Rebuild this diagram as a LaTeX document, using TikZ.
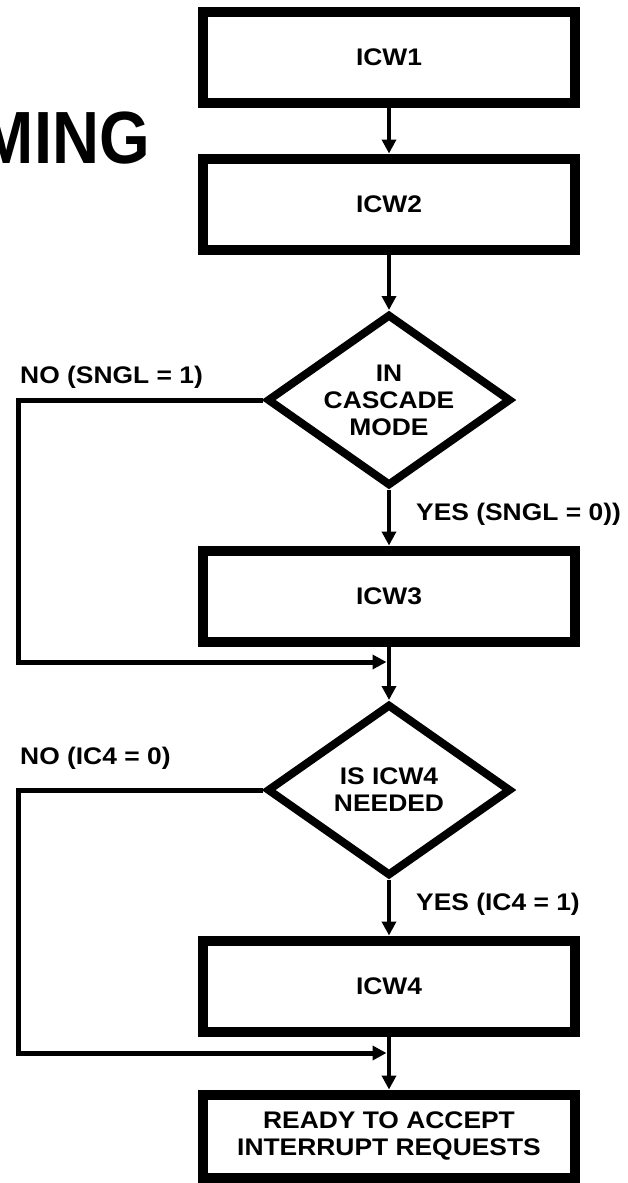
\documentclass[tikz,border=0pt]{standalone}
\usepackage{fontspec}
\newfontfamily\chartfont{Liberation Sans}[FakeStretch=1.1]
\newfontfamily\headfont{Liberation Sans}[FakeStretch=0.88]
\usetikzlibrary{
    arrows.meta,
    shapes.geometric
}

\begin{document}
\begin{tikzpicture}[x=1pt,y=-1pt,
    box/.style={draw,line width=10pt,minimum width=372pt,minimum height=91pt,
        inner sep=0pt,align=center,font=\chartfont\bfseries\fontsize{24}{27}\selectfont},
    decision/.style={diamond,draw,line width=8pt,aspect=1.4,minimum width=244pt,
        minimum height=172pt,inner sep=0pt,align=center,
        font=\chartfont\bfseries\fontsize{24}{27}\selectfont},
    flow/.style={line width=4.5pt,-{Triangle[length=14pt,width=14pt]}},
    tag/.style={anchor=west,inner sep=0pt,font=\chartfont\bfseries\fontsize{24}{27}\selectfont}]

\useasboundingbox (0,0) rectangle (628,1183);

% Heading (cut at the left edge)
\node[anchor=base east,inner sep=0pt,font=\headfont\bfseries\fontsize{74}{80}\selectfont] (title) at (150,163) {MING};

% Steps
\node[box] (icw1) at (389,57) {ICW1};
\node[box] (icw2) at (389,204) {ICW2};
\node[decision] (d1) at (389,400) {IN\\CASCADE\\MODE};
\node[box] (icw3) at (389,596) {ICW3};
\node[decision] (d2) at (389,790) {IS ICW4\\NEEDED};
\node[box] (icw4) at (389,986) {ICW4};
\node[box,minimum height=83pt] (ready) at (389,1136) {READY TO ACCEPT\\INTERRUPT REQUESTS};

% Branch labels
\node[tag] (no1) at (20,377) {NO (SNGL = 1)};
\node[tag] (yes1) at (416,514) {YES (SNGL = 0))};
\node[tag] (no2) at (20,758) {NO (IC4 = 0)};
\node[tag] (yes2) at (416,904) {YES (IC4 = 1)};

% Join points
\coordinate (leftx) at (18,0);
\coordinate (j1) at (389,662);
\coordinate (j2) at (389,1053);

% Main flow
\draw[flow] (icw1) -- (icw2);
\draw[flow] (icw2) -- (d1);
\draw[flow] (d1) -- (icw3);
\draw[flow] (icw3) -- (d2);
\draw[flow] (d2) -- (icw4);
\draw[flow] (icw4) -- (ready);

% Bypass lines
\draw[flow,line width=5pt,shorten >=2.5pt] (d1.west) -- (d1.west -| leftx) |- (j1);
\draw[flow,line width=5pt,shorten >=2.5pt] (d2.west) -- (d2.west -| leftx) |- (j2);

\end{tikzpicture}
\end{document}
